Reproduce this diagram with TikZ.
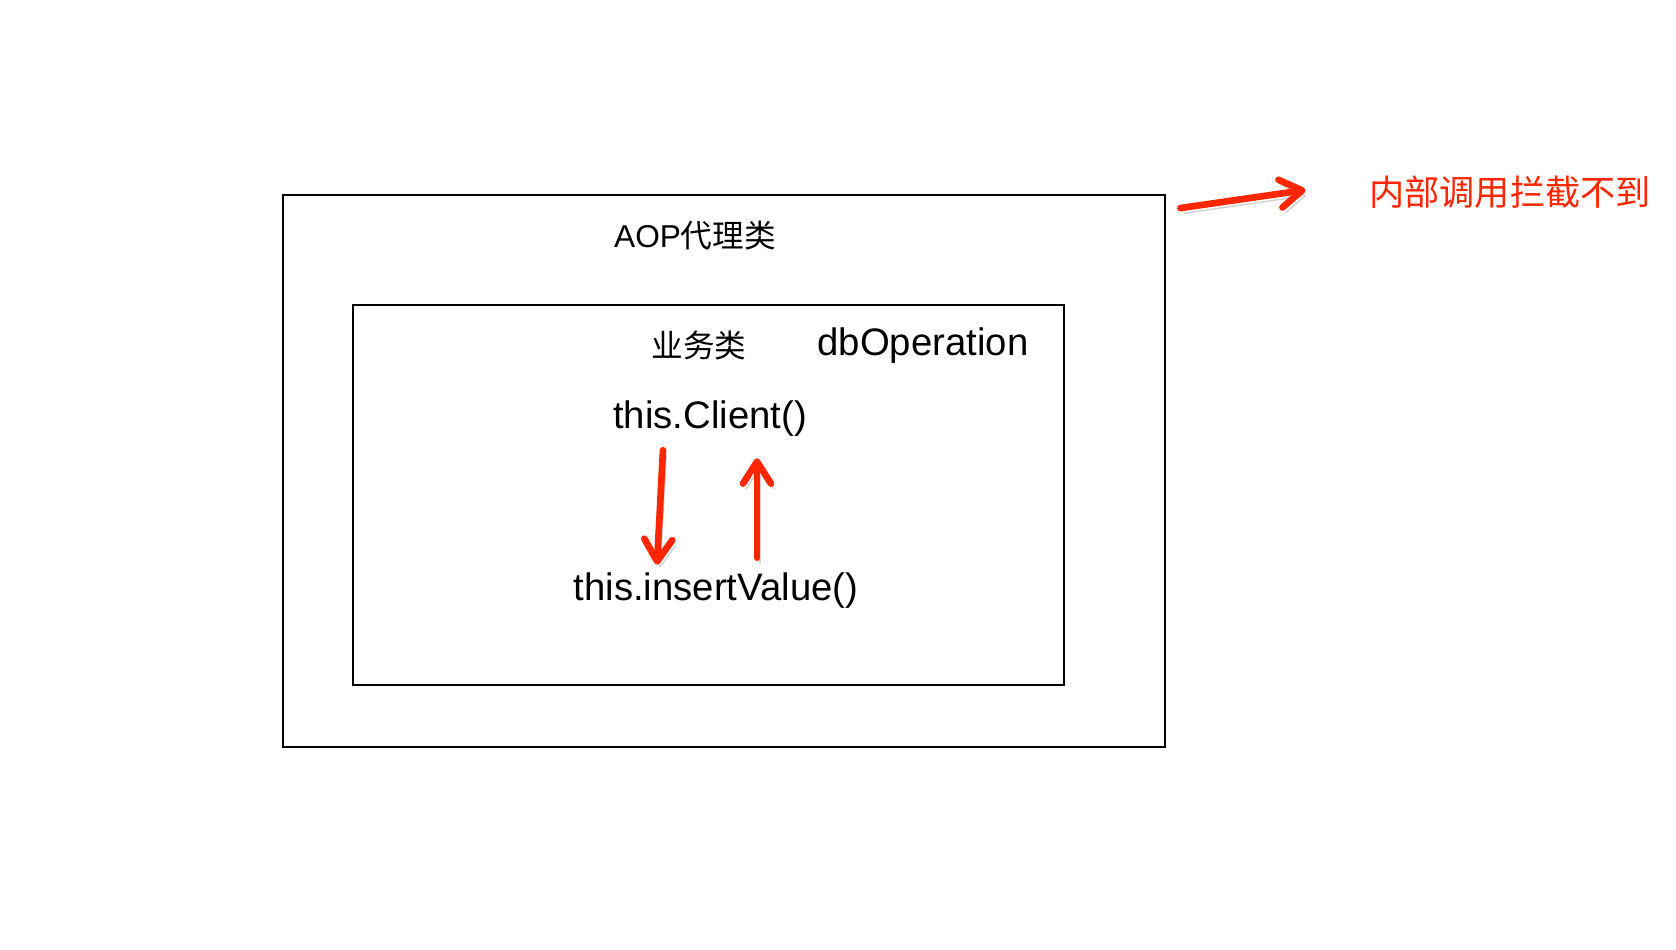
\documentclass[tikz,border=0pt]{standalone}
\usepackage{fontspec}
\setmainfont{Liberation Sans}
\newfontfamily\cjk{Noto Sans CJK SC}
\usetikzlibrary{arrows.meta}
\definecolor{callred}{RGB}{255,38,0}
\tikzset{
  classbox/.style={draw, line width=0.8pt, inner sep=0pt},
  codetext/.style={font=\fontsize{10.9}{13}\selectfont},
  titletext/.style={font=\fontsize{9}{11}\selectfont},
  redarrow/.style={callred, line width=1.9pt, line cap=round, line join=round,
    -{Straight Barb[length=2.2mm,width=2.8mm,line width=1.9pt,round]},
    preaction={draw=black, opacity=0.18, transform canvas={shift={(0.9pt,-1.5pt)}}}}
}
\begin{document}
\begin{tikzpicture}
\useasboundingbox (0,0) rectangle (16.76,9.5);
% boxes
\node[classbox, minimum width=8.82cm, minimum height=5.52cm] (proxy) at (7.24,4.79) {};
\node[classbox, minimum width=7.11cm, minimum height=3.80cm] (service) at (7.085,4.55) {};
% labels
\node[titletext] (proxylabel) at (6.95,7.14) {AOP{\cjk 代理类}};
\node[titletext] (servicelabel) at (6.99,6.05) {\cjk 业务类};
\node[codetext] (db) at (9.23,6.04) {dbOperation};
\node[codetext] (client) at (7.10,5.31) {this.Client()};
\node[codetext] (insert) at (7.16,3.59) {this.insertValue()};
\node[callred, font=\cjk\fontsize{10}{12}\selectfont] (note) at (15.10,7.58) {内部调用拦截不到};
% calls
\draw[redarrow] ([xshift=-0.47cm,yshift=-0.01cm]client.south) -- ([xshift=-0.59cm,yshift=-0.04cm]insert.north);
\draw[redarrow] ([xshift=0.41cm,yshift=0.03cm]insert.north) -- ([xshift=0.47cm,yshift=-0.09cm]client.south);
\draw[redarrow] ([xshift=0.14cm,yshift=-0.145cm]proxy.north east) -- ([xshift=-0.515cm,yshift=0.02cm]note.west);
\end{tikzpicture}
\end{document}
